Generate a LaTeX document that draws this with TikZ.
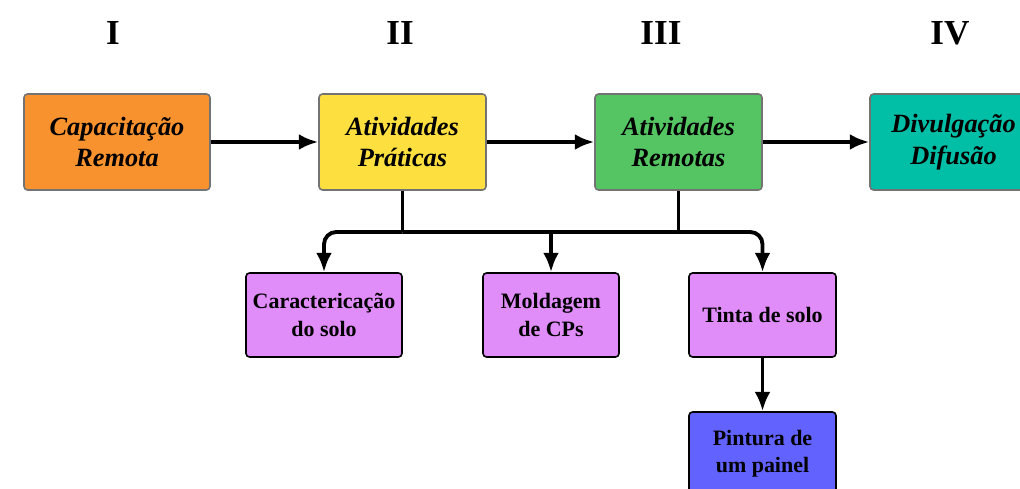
\documentclass[tikz,border=0pt]{standalone}
\usepackage{fontspec}
\setmainfont{Liberation Serif}
\usepackage{tikz}
\usetikzlibrary{positioning, arrows.meta}
\definecolor{capfill}{HTML}{F8922E}
\definecolor{pratfill}{HTML}{FDE03F}
\definecolor{remfill}{HTML}{55C463}
\definecolor{divfill}{HTML}{00BFA6}
\definecolor{subfill}{HTML}{E08CF9}
\definecolor{pinfill}{HTML}{6262FE}

\begin{document}
\begin{tikzpicture}[x=0.02cm, y=-0.02cm,
  top/.style={draw=black!55, line width=0.9pt, rounded corners=2pt, minimum height=1.92cm, align=center, font=\fontsize{15}{18}\selectfont\bfseries\itshape, inner sep=0pt},
  sub/.style={draw=black, line width=0.9pt, rounded corners=2pt, minimum height=1.68cm, align=center, font=\fontsize{12.5}{15.5}\selectfont\bfseries, inner sep=0pt},
  phase/.style={font=\fontsize{20}{24}\selectfont\bfseries},
  arrow/.style={-{Latex[length=11pt, width=9pt]}, line width=2.2pt, black},
  line/.style={line width=2.2pt, black}
]
  \clip (0,0) rectangle (1020,489);
  \fill[white] (0,0) rectangle (1020,489);

  % phases
  \node[phase] (p1) at (113,33) {I};
  \node[phase] (p2) at (400,33) {II};
  \node[phase] (p3) at (661,33) {III};
  \node[phase] (p4) at (950,33) {IV};

  % main row
  \node[top, fill=capfill, minimum width=3.72cm] (cap) at (117,142) {Capacitação\\Remota};
  \node[top, fill=pratfill, minimum width=3.34cm] (prat) at (402.5,142) {Atividades\\Práticas};
  \node[top, fill=remfill, minimum width=3.34cm] (rem) at (678.5,142) {Atividades\\Remotas};
  \node[top, fill=divfill, minimum width=3.34cm] (div) at (953.5,142) {Divulgação\\Difusão};

  % sub activities
  \node[sub, fill=subfill, minimum width=3.12cm] (car) at (324,315) {Caractericação\\do solo};
  \node[sub, fill=subfill, minimum width=2.72cm] (mol) at (551,315) {Moldagem\\de CPs};
  \node[sub, fill=subfill, minimum width=2.94cm] (tin) at (762.5,315) {Tinta de solo};
  \node[sub, fill=pinfill, minimum width=2.94cm] (pin) at (762.5,454) {Pintura de\\um painel};

  \draw[arrow] (cap) -- (prat);
  \draw[arrow] (prat) -- (rem);
  \draw[arrow] (rem) -- (div);

  \coordinate (bj) at (402.5,232);
  \draw[line] (prat.south) -- (bj);
  \draw[line] (rem.south) -- (rem.south |- bj);
  \draw[arrow, rounded corners=7pt] (bj) -| (car.north);
  \draw[arrow, rounded corners=7pt] (bj) -| (tin.north);
  \draw[arrow] (bj -| mol.north) -- (mol.north);
  \draw[arrow] (tin) -- (pin);
\end{tikzpicture}
\end{document}
